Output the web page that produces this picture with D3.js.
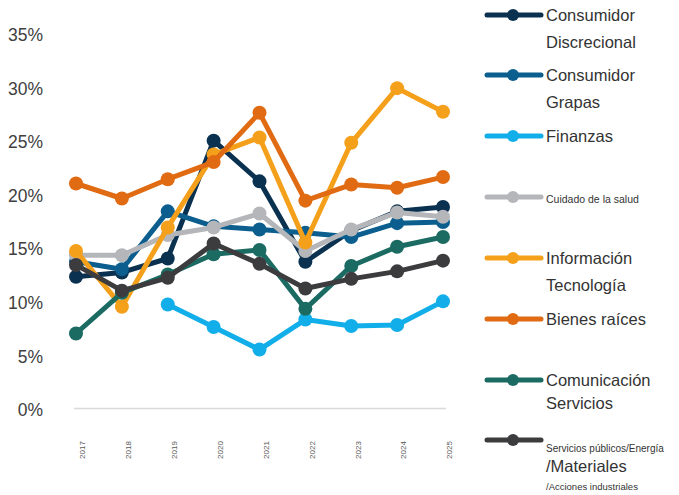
<!DOCTYPE html>
<html>
<head>
<meta charset="utf-8">
<script src="https://cdn.jsdelivr.net/npm/d3@7"></script>
<style>
  html, body { margin: 0; padding: 0; background: #fff; }
  svg { display: block; font-family: "Liberation Sans", Arial, sans-serif; }
</style>
</head>
<body>
<svg id="chart" width="679" height="495"></svg>
<script>
// ---------- DATA ----------
const years = ["2017", "2018", "2019", "2020", "2021", "2022", "2023", "2024", "2025"];
const yTicks = [0, 5, 10, 15, 20, 25, 30, 35];

const consumidorDiscrecional = [12.3, 12.7, 14.0, 25.0, 21.2, 13.7, 16.6, 18.4, 18.8];
const consumidorGrapas       = [13.7, 13.0, 18.4, 17.0, 16.7, 16.4, 16.0, 17.3, 17.4];
const finanzas               = [null, null, 9.7, 7.6, 5.5, 8.3, 7.7, 7.8, 10.0];
const cuidadoSalud           = [14.3, 14.3, 16.2, 16.9, 18.2, 14.7, 16.7, 18.3, 17.9];
const informacionTecnologia  = [14.7, 9.5, 16.9, 23.7, 25.3, 15.5, 24.8, 29.9, 27.7];
const bienesRaices           = [21.0, 19.6, 21.4, 23.0, 27.6, 19.4, 20.9, 20.6, 21.6];
const comunicacionServicios  = [7.0, 10.8, 12.5, 14.4, 14.8, 9.3, 13.3, 15.1, 16.0];
const serviciosPublicos      = [13.4, 11.0, 12.2, 15.4, 13.5, 11.2, 12.1, 12.8, 13.8];

const seriesNames = [
  "Consumidor Discrecional",
  "Consumidor Grapas",
  "Finanzas",
  "Cuidado de la salud",
  "Información Tecnología",
  "Bienes raíces",
  "Comunicación Servicios",
  "Servicios públicos/Energía /Materiales /Acciones industriales"
];
const seriesValues = [
  consumidorDiscrecional, consumidorGrapas, finanzas, cuidadoSalud,
  informacionTecnologia, bienesRaices, comunicacionServicios, serviciosPublicos
];

// ---------- STYLE / LAYOUT ----------
const colors = ["#0b3150", "#0b5e8d", "#11aeea", "#b4b6ba", "#f4a01b", "#e06b12", "#1b6b63", "#3c3c3e"];

// legend text lines per series: [text, fontSize, dy from row line]
const legendLayout = [
  { y: 15,  lines: [["Consumidor", 16.5, 0], ["Discrecional", 16.5, 27]] },
  { y: 75,  lines: [["Consumidor", 16.5, 0], ["Grapas", 16.5, 27]] },
  { y: 136, lines: [["Finanzas", 16.5, 0]] },
  { y: 197, lines: [["Cuidado de la salud", 10.5, 2]] },
  { y: 258, lines: [["Información", 16.5, 0], ["Tecnología", 16.5, 27]] },
  { y: 319, lines: [["Bienes raíces", 16.5, 0]] },
  { y: 380, lines: [["Comunicación", 16.5, 0], ["Servicios", 16.5, 23]] },
  { y: 440, lines: [["Servicios públicos/Energía", 10, 8], ["/Materiales", 16.5, 26], ["/Acciones industriales", 9.5, 47]] }
];

const svg = d3.select("#chart");

const x = d3.scalePoint().domain(years).range([76, 443]);
const y = d3.scaleLinear().domain([0, 35]).range([408.5, 33.5]);

// baseline (0%) line
svg.append("line")
  .attr("x1", 74).attr("x2", 446)
  .attr("y1", y(0)).attr("y2", y(0))
  .attr("stroke", "#d9d9d9").attr("stroke-width", 1.5);

// Y axis
const yAxis = svg.append("g")
  .attr("transform", "translate(43,1.5)")
  .call(d3.axisLeft(y).tickValues(yTicks).tickFormat(d => d + "%").tickSize(0).tickPadding(0));
yAxis.select(".domain").remove();
yAxis.selectAll("text")
  .attr("fill", "#404040")
  .style("font-size", "17.5px")
  .style("font-family", "'Liberation Sans', Arial, sans-serif");

// X axis
const xAxis = svg.append("g")
  .attr("transform", "translate(0,450)")
  .call(d3.axisBottom(x).tickSize(0));
xAxis.select(".domain").remove();
xAxis.selectAll("text")
  .attr("transform", "translate(6,0) rotate(-90)")
  .attr("x", 0).attr("y", 0).attr("dy", "0.35em")
  .attr("text-anchor", "middle")
  .attr("fill", "#595959")
  .style("font-size", "8px")
  .style("font-family", "'Liberation Sans', Arial, sans-serif");

// Series lines + markers (legend order; later on top)
const line = d3.line()
  .defined(d => d.v !== null)
  .x(d => x(d.year))
  .y(d => y(d.v));

seriesValues.forEach((vals, i) => {
  const pts = years.map((yr, j) => ({ year: yr, v: vals[j] }));
  const g = svg.append("g").attr("class", "series");
  g.append("path")
    .datum(pts)
    .attr("d", line)
    .attr("fill", "none")
    .attr("stroke", colors[i])
    .attr("stroke-width", 5)
    .attr("stroke-linejoin", "round");
  g.selectAll("circle")
    .data(pts.filter(d => d.v !== null))
    .join("circle")
    .attr("cx", d => x(d.year))
    .attr("cy", d => y(d.v))
    .attr("r", 7)
    .attr("fill", colors[i]);
});

// Legend
const legend = svg.append("g");
legendLayout.forEach((item, i) => {
  const g = legend.append("g").attr("transform", `translate(0,${item.y})`);
  g.append("line")
    .attr("x1", 487).attr("x2", 541)
    .attr("y1", 0).attr("y2", 0)
    .attr("stroke", colors[i]).attr("stroke-width", 5)
    .attr("stroke-linecap", "round");
  g.append("circle").attr("cx", 513).attr("cy", 0).attr("r", 6).attr("fill", colors[i]);
  item.lines.forEach(([t, fs, dy]) => {
    g.append("text")
      .attr("x", 546).attr("y", dy)
      .attr("dy", "0.35em")
      .attr("fill", "#333333")
      .style("font-size", fs + "px")
      .text(t);
  });
});
</script>
</body>
</html>
